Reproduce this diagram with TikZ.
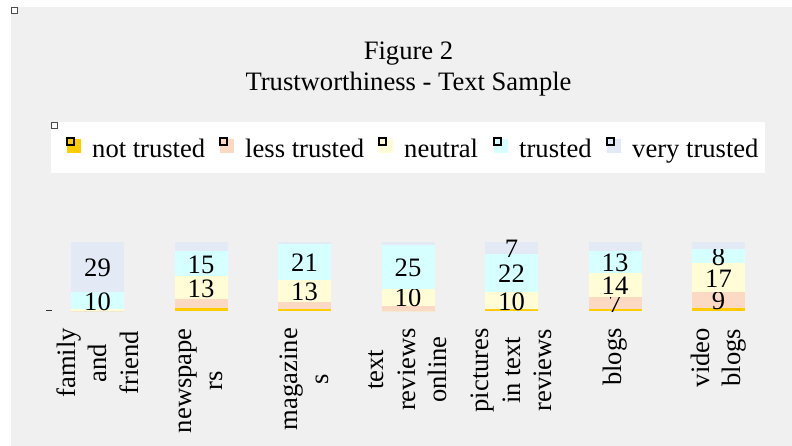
\documentclass[tikz,border=0pt]{standalone}
\usepackage{fontspec}
\setmainfont{Liberation Serif}
\definecolor{bggray}{HTML}{F0F0F0}
\definecolor{seg1}{HTML}{FFCC00}% not trusted
\definecolor{seg2}{HTML}{FCD9C2}% less trusted
\definecolor{seg3}{HTML}{FFFCD6}% neutral
\definecolor{seg4}{HTML}{D6FFFF}% trusted
\definecolor{seg5}{HTML}{E3EAF5}% very trusted
\tikzset{
  txt/.style={font=\fontsize{26.6}{31.5}\selectfont,inner sep=0pt},
  catlbl/.style={txt,rotate=90,anchor=east,align=center},
  marker/.style={draw=black,line width=2pt},
  tinybox/.style={draw=black!70,fill=white,line width=0.8pt}
}
\begin{document}
\begin{tikzpicture}[x=1pt,y=-1pt]
\useasboundingbox (0,0) rectangle (792,446);
\fill[bggray] (11,7) rectangle (792,446);
\draw[tinybox] (11.5,7.5) rectangle (17.5,13.5);
% title
\node[txt,anchor=base] (title1) at (408.5,60) {Figure 2};
\node[txt,anchor=base] (title2) at (408.5,91) {Trustworthiness - Text Sample};
% legend
\fill[white] (51,122) rectangle (765,173);
\draw[tinybox] (51.5,122.5) rectangle (57.5,128.5);
\foreach \lx/\tx/\k in {67/not trusted/1,220/less trusted/2,379/neutral/3,
                        494/trusted/4,607/very trusted/5}{
  \fill[seg\k] (\lx,139) rectangle ++(14,14);
  \draw[marker,fill=seg\k] (\lx,138) rectangle ++(7,7);
  \node[txt,anchor=base west] (leg\k) at (\lx+25,158) {\tx};
}
% axis tick
\draw[black!80,line width=1pt] (46,310.5) -- (52,310.5);
% bars
\foreach \vals/\cat [count=\i] in {
    {0,0,1,10,29}/{family\\and\\friend},
    {2,5,13,15,5}/{newspape\\rs},
    {1,4,13,21,1}/{magazine\\s},
    {0,3,10,25,2}/{text\\reviews\\online},
    {1,0,10,22,7}/{pictures\\in text\\reviews},
    {1,7,14,13,5}/{blogs},
    {2,9,17,8,4}/{video\\blogs}}{
  \pgfmathsetmacro\bx{97.5+103.5*(\i-1)}
  \xdef\segbase{0}
  \foreach \v [count=\k] in \vals {
    \pgfmathsetmacro\segtop{\segbase+\v}
    \fill[seg\k] (\bx-26.5,311-1.725*\segbase) rectangle (\bx+26.5,311-1.725*\segtop);
    \ifnum\v>6
      \node[txt] (num\i-\k) at (\bx,312-0.8625*\segbase-0.8625*\segtop) {\v};
    \fi
    \xdef\segbase{\segtop}
  }
  \node[catlbl] (cat\i) at (\bx,328) {\cat};
}
\end{tikzpicture}
\end{document}
